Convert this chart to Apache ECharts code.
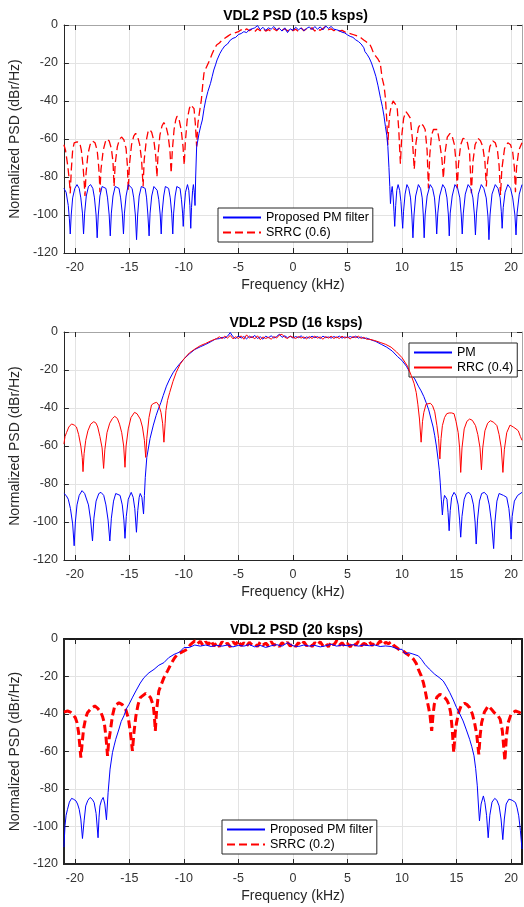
<!DOCTYPE html>
<html lang="en">
<head>
    <meta charset="UTF-8">
    <title>VDL2 PSD</title>
    <script src="https://cdn.jsdelivr.net/npm/echarts@6/dist/echarts.min.js"></script>
</head>
<style>
    html, body { margin: 0; padding: 0; background: #fff; }
    #chart { width: 524px; height: 907px; }
</style>
<body>
<div id="chart"></div>
<script>
    // tick positions and titles
    var xTicks = [-20, -15, -10, -5, 0, 5, 10, 15, 20];
    var titles = ['VDL2 PSD (10.5 ksps)', 'VDL2 PSD (16 ksps)', 'VDL2 PSD (20 ksps)'];
    var names = [['Proposed PM filter', 'SRRC (0.6)'], ['PM', 'RRC (0.4)'], ['Proposed PM filter', 'SRRC (0.2)']];

    // panel 1 (10.5 ksps) [kHz, dB]
    var p1Blue = [[-21.0,-86],[-20.8,-88],[-20.6,-95],[-20.5,-102],[-20.42,-110],[-20.33,-100],[-20.2,-91],[-20.0,-86],[-19.8,-84],[-19.6,-86],[-19.45,-91],[-19.3,-99],[-19.2,-110],[-19.1,-99],[-18.95,-90],[-18.75,-85],[-18.55,-84],[-18.35,-86],[-18.2,-91],[-18.05,-100],[-17.95,-112],[-17.85,-100],[-17.7,-90],[-17.5,-85],[-17.35,-84],[-17.15,-86],[-17.0,-91],[-16.85,-100],[-16.75,-111],[-16.65,-99],[-16.5,-90],[-16.3,-85],[-16.15,-84],[-15.95,-86],[-15.8,-91],[-15.65,-99],[-15.54,-110],[-15.45,-99],[-15.3,-90],[-15.1,-84],[-14.94,-83],[-14.75,-86],[-14.6,-91],[-14.45,-100],[-14.34,-113],[-14.24,-100],[-14.1,-90],[-13.9,-85],[-13.73,-84],[-13.55,-86],[-13.42,-91],[-13.3,-100],[-13.19,-111],[-13.1,-99],[-12.95,-90],[-12.75,-85],[-12.6,-85],[-12.45,-87],[-12.3,-92],[-12.17,-100],[-12.08,-110],[-12.0,-99],[-11.85,-90],[-11.7,-85],[-11.57,-84],[-11.4,-86],[-11.25,-91],[-11.12,-99],[-11.02,-110],[-10.94,-99],[-10.8,-90],[-10.65,-85],[-10.51,-84],[-10.35,-86],[-10.22,-92],[-10.12,-99],[-10.06,-106],[-9.98,-97],[-9.85,-88],[-9.67,-84],[-9.55,-87],[-9.45,-95],[-9.37,-107],[-9.3,-96],[-9.2,-87],[-9.13,-84],[-9.05,-88],[-8.98,-95],[-8.92,-80],[-8.83,-64],[-8.7,-60],[-8.61,-57],[-8.45,-53],[-8.31,-50],[-8.15,-44],[-8.0,-39.5],[-7.8,-35],[-7.56,-30.7],[-7.4,-27],[-7.26,-23.7],[-7.1,-21],[-6.96,-18.4],[-6.7,-15],[-6.5,-13],[-6.25,-11],[-6.0,-10],[-5.75,-8],[-5.5,-7],[-5.25,-6.5],[-5.0,-5],[-4.75,-4.5],[-4.5,-3.5],[-4.25,-4],[-4.0,-2.5],[-3.75,-2],[-3.5,-1.5],[-3.25,-0.3],[-3.0,-2.5],[-2.75,-1.2],[-2.5,-2.8],[-2.25,-1.5],[-2.0,-2.2],[-1.75,-0.8],[-1.5,-2.5],[-1.25,-1.8],[-1.0,-3.2],[-0.75,-1.5],[-0.5,-4],[-0.25,-2],[0,-2.8],[0.25,-1.2],[0.5,-2.5],[0.75,-1.6],[1.0,-3],[1.25,-1.8],[1.5,-1.0],[1.75,-2.5],[2.0,-0.8],[2.25,-2.2],[2.5,-1.0],[2.75,-2.6],[3.0,-0.5],[3.25,-1.8],[3.5,-0.8],[3.75,-2.2],[4.0,-2.5],[4.25,-3.0],[4.5,-3.8],[4.75,-4.2],[5.0,-5.2],[5.25,-6],[5.5,-6.5],[5.75,-7.8],[6.0,-8.7],[6.25,-10],[6.5,-12],[6.6,-14],[6.8,-15.5],[7.0,-17.4],[7.2,-20],[7.42,-23.7],[7.6,-27],[7.8,-32],[8.03,-38.6],[8.2,-43],[8.35,-48],[8.48,-53.5],[8.6,-58],[8.7,-64],[8.8,-75],[8.88,-85],[8.94,-94],[9.02,-88],[9.1,-85],[9.18,-90],[9.26,-98],[9.33,-106],[9.42,-95],[9.52,-87],[9.64,-84],[9.78,-87],[9.9,-93],[9.98,-100],[10.06,-107],[10.14,-98],[10.28,-89],[10.45,-84],[10.62,-86],[10.78,-91],[10.9,-100],[11.0,-112],[11.1,-100],[11.25,-90],[11.5,-84],[11.7,-86],[11.85,-91],[11.95,-100],[12.03,-112],[12.12,-100],[12.3,-90],[12.58,-84],[12.8,-86],[12.98,-91],[13.1,-100],[13.18,-110],[13.28,-99],[13.45,-90],[13.73,-84],[13.95,-86],[14.12,-91],[14.25,-100],[14.33,-111],[14.42,-99],[14.6,-90],[14.85,-84],[15.1,-86],[15.3,-91],[15.43,-100],[15.52,-110],[15.62,-99],[15.8,-89],[16.06,-84],[16.3,-86],[16.5,-91],[16.64,-100],[16.73,-110.5],[16.83,-99],[17.0,-89],[17.27,-84],[17.5,-86],[17.72,-91],[17.88,-101],[17.97,-113],[18.07,-100],[18.25,-89],[18.55,-84],[18.8,-86],[19.0,-91],[19.1,-98],[19.18,-107],[19.28,-96],[19.45,-88],[19.7,-84],[19.95,-86],[20.15,-91],[20.35,-100],[20.45,-110.5],[20.55,-99],[20.75,-89],[21.0,-84]];
    var p1Red = [[-21.0,-63],[-20.85,-66],[-20.65,-74],[-20.5,-82],[-20.42,-88.6],[-20.32,-76],[-20.2,-66],[-20.06,-62],[-19.8,-61.5],[-19.55,-62],[-19.4,-66],[-19.25,-74],[-19.15,-82],[-19.07,-90],[-18.97,-78],[-18.8,-68],[-18.6,-63],[-18.4,-61],[-18.15,-62],[-17.95,-66],[-17.82,-74],[-17.75,-80],[-17.7,-88],[-17.6,-76],[-17.4,-66],[-17.2,-61.5],[-17.05,-60],[-16.85,-61],[-16.65,-65],[-16.5,-72],[-16.4,-85],[-16.3,-73],[-16.1,-64],[-15.9,-60],[-15.7,-59],[-15.5,-60.5],[-15.3,-65],[-15.18,-74],[-15.1,-87],[-15.0,-74],[-14.8,-63],[-14.6,-58.5],[-14.43,-57],[-14.25,-58.5],[-14.05,-63],[-13.88,-71],[-13.74,-85],[-13.64,-71],[-13.45,-61],[-13.3,-56.5],[-13.13,-55],[-12.95,-56.5],[-12.75,-61],[-12.58,-69],[-12.47,-80],[-12.37,-68],[-12.2,-58],[-12.0,-53],[-11.84,-51.4],[-11.65,-53],[-11.45,-58],[-11.28,-66],[-11.17,-78],[-11.06,-66],[-10.9,-55],[-10.75,-50],[-10.63,-48],[-10.45,-49.5],[-10.25,-55],[-10.08,-64],[-9.97,-73.7],[-9.87,-62],[-9.7,-50],[-9.5,-44],[-9.37,-42],[-9.2,-42.5],[-9.07,-44],[-8.95,-52],[-8.83,-64],[-8.72,-52],[-8.6,-47],[-8.4,-39.5],[-8.25,-30],[-8.16,-25.4],[-8.0,-23],[-7.86,-22],[-7.6,-18],[-7.4,-15],[-7.2,-12.5],[-7.0,-10.5],[-6.75,-9.5],[-6.5,-8],[-6.25,-7],[-6.0,-6],[-5.75,-5],[-5.5,-4.5],[-5.25,-4],[-5.0,-3.5],[-4.75,-2.5],[-4.5,-3.2],[-4.25,-2],[-4.0,-3],[-3.75,-2.2],[-3.5,-3.5],[-3.25,-2],[-3.0,-3],[-2.75,-1.8],[-2.5,-3.2],[-2.25,-2.4],[-2.0,-3.4],[-1.75,-2],[-1.5,-3],[-1.25,-1.5],[-1.0,-2.8],[-0.75,-2],[-0.5,-3.2],[-0.25,-1.8],[0,-3],[0.25,-2.2],[0.5,-3.4],[0.75,-1.6],[1.0,-3],[1.25,-2],[1.5,-2.6],[1.75,-1.4],[2.0,-3.2],[2.25,-2],[2.5,-2.8],[2.75,-1.8],[3.0,-0.8],[3.25,-2.5],[3.5,-2],[3.75,-3],[4.0,-2.2],[4.25,-3.2],[4.5,-2.8],[4.75,-3.6],[5.0,-4.3],[5.25,-4.5],[5.5,-5],[5.75,-5.5],[6.0,-6],[6.25,-6.8],[6.52,-8],[6.75,-9],[7.0,-9.6],[7.2,-12],[7.4,-15],[7.6,-16.5],[7.8,-18],[8.0,-20],[8.18,-28],[8.35,-32],[8.48,-38.6],[8.6,-50],[8.7,-63],[8.8,-52],[8.88,-46.5],[9.0,-43],[9.18,-40],[9.35,-41],[9.55,-43],[9.7,-55],[9.85,-73],[9.98,-58],[10.15,-49],[10.36,-45.6],[10.55,-47],[10.76,-49],[10.95,-60],[11.12,-76],[11.28,-62],[11.5,-54],[11.73,-51.8],[11.95,-53],[12.12,-55],[12.3,-66],[12.42,-86],[12.55,-68],[12.7,-58],[12.88,-55],[13.05,-54.5],[13.24,-55],[13.45,-62],[13.65,-70],[13.79,-80.7],[13.95,-67],[14.15,-59],[14.4,-57],[14.6,-58.5],[14.8,-63],[14.95,-72],[15.06,-86],[15.18,-73],[15.38,-63],[15.6,-59.6],[15.8,-60],[16.0,-62],[16.2,-68],[16.36,-88.6],[16.5,-72],[16.7,-63],[16.97,-59.6],[17.2,-61],[17.4,-64],[17.6,-72],[17.73,-85],[17.85,-72],[18.05,-64],[18.33,-61],[18.55,-62],[18.75,-66],[18.9,-74],[19.03,-89.5],[19.15,-76],[19.4,-65],[19.7,-62],[19.95,-63],[20.15,-67],[20.3,-75],[20.4,-88],[20.5,-75],[20.7,-66],[21.0,-62]];

    // panel 2 (16 ksps)
    var p2Blue = [[-21.0,-85],[-20.8,-86],[-20.6,-88],[-20.4,-93],[-20.2,-101],[-20.06,-112.5],[-19.95,-100],[-19.8,-91],[-19.6,-86],[-19.34,-83.5],[-19.1,-85],[-18.95,-86],[-18.75,-91],[-18.55,-99],[-18.38,-110],[-18.25,-98],[-18.05,-89],[-17.8,-85],[-17.6,-84.4],[-17.35,-86],[-17.15,-91],[-16.95,-99],[-16.79,-110],[-16.65,-98],[-16.45,-89],[-16.25,-85],[-16.1,-84.4],[-15.85,-86],[-15.65,-91],[-15.5,-99],[-15.4,-108.6],[-15.28,-97],[-15.1,-88],[-14.83,-84.4],[-14.65,-87],[-14.5,-93],[-14.35,-105.4],[-14.23,-94],[-14.1,-87],[-14.0,-85],[-13.85,-87],[-13.7,-95.8],[-13.62,-86],[-13.54,-76.5],[-13.4,-66],[-13.1,-56],[-12.8,-49],[-12.55,-44],[-12.34,-40.5],[-12.1,-37],[-11.9,-33.5],[-11.6,-28.5],[-11.3,-24.7],[-11.0,-21.5],[-10.7,-19],[-10.35,-16.5],[-10.0,-14.2],[-9.5,-11.5],[-9.0,-9.2],[-8.5,-7.8],[-8.0,-6.5],[-7.5,-5],[-7.1,-3.7],[-6.75,-3.5],[-6.5,-2.8],[-6.25,-3.2],[-6.0,-2.2],[-5.75,-0.3],[-5.5,-2.5],[-5.25,-3.5],[-5.0,-2],[-4.75,-3.2],[-4.5,-2.4],[-4.25,-3.6],[-4.0,-2.2],[-3.75,-3],[-3.5,-1.8],[-3.25,-3.4],[-3.0,-2.5],[-2.75,-3.8],[-2.5,-2.2],[-2.25,-3],[-2.0,-2],[-1.75,-3.2],[-1.5,-2.4],[-1.25,-1.2],[-1.0,-2.8],[-0.75,-2],[-0.5,-3],[-0.25,-2.2],[0,-3.2],[0.25,-2.4],[0.5,-3],[0.75,-2],[1.0,-3.4],[1.25,-2.6],[1.5,-3.2],[1.75,-2.2],[2.0,-3],[2.25,-2.4],[2.5,-3.4],[2.75,-2.2],[3.0,-3],[3.25,-2.6],[3.5,-3.2],[3.75,-2.4],[4.0,-3],[4.25,-2.2],[4.5,-3.2],[4.75,-2.6],[5.0,-3],[5.25,-2.4],[5.5,-3],[5.75,-2.2],[6.0,-3.2],[6.25,-2.6],[6.5,-3.4],[6.75,-3.2],[7.1,-4],[7.6,-5],[8.1,-6.5],[8.6,-8],[9.1,-10],[9.6,-13],[10.0,-15],[10.4,-18],[10.8,-22],[11.17,-24.7],[11.5,-28.5],[11.75,-31],[12.0,-34],[12.2,-37],[12.45,-41],[12.66,-45.8],[12.85,-50],[13.0,-54.6],[13.15,-60],[13.3,-66.8],[13.42,-73],[13.5,-79],[13.6,-88],[13.7,-96.3],[13.8,-89],[13.9,-86],[14.0,-85],[14.12,-88],[14.22,-95],[14.32,-104.6],[14.42,-94],[14.55,-87],[14.77,-84.4],[14.95,-86],[15.15,-91],[15.28,-99],[15.38,-108],[15.5,-97],[15.7,-88],[15.9,-85],[16.13,-84.4],[16.35,-86],[16.55,-91],[16.7,-100],[16.8,-111.6],[16.92,-99],[17.1,-89],[17.3,-85],[17.55,-84.4],[17.8,-86],[18.0,-91],[18.2,-100],[18.4,-114],[18.52,-100],[18.7,-89],[18.9,-85],[19.06,-84.4],[19.3,-86],[19.6,-87],[19.8,-93],[19.92,-100],[20.0,-109],[20.1,-97],[20.3,-89],[20.6,-86],[21.0,-84.4]];
    var p2Red = [[-21.0,-59],[-20.9,-55],[-20.75,-52.8],[-20.55,-50],[-20.3,-48.4],[-20.05,-49],[-19.85,-50],[-19.65,-54],[-19.45,-60],[-19.32,-66],[-19.25,-73.5],[-19.15,-64],[-19.0,-57],[-18.8,-52],[-18.55,-48.5],[-18.26,-47.2],[-18.05,-48],[-17.9,-50],[-17.7,-55],[-17.5,-61],[-17.36,-71.8],[-17.25,-62],[-17.05,-53],[-16.8,-48],[-16.55,-45.5],[-16.34,-44.4],[-16.1,-45.5],[-15.9,-48.5],[-15.7,-53],[-15.52,-60],[-15.4,-71.2],[-15.3,-60],[-15.1,-51],[-14.85,-45],[-14.53,-42.3],[-14.3,-43],[-14.0,-45.8],[-13.8,-50],[-13.62,-57],[-13.5,-66],[-13.4,-56],[-13.2,-45],[-12.97,-38.4],[-12.75,-37.5],[-12.5,-37],[-12.3,-38.5],[-12.1,-42.3],[-11.95,-48],[-11.83,-58],[-11.72,-48],[-11.65,-41.4],[-11.5,-36],[-11.3,-31.8],[-11.0,-26],[-10.7,-21.2],[-10.35,-17],[-10.0,-14.2],[-9.5,-11],[-9.0,-9],[-8.5,-7.2],[-8.0,-6],[-7.5,-4.6],[-7.0,-3.5],[-6.75,-2.5],[-6.5,-3.5],[-6.25,-2.2],[-6.0,-3.2],[-5.75,-1.8],[-5.5,-3.6],[-5.25,-2.5],[-5.0,-3.4],[-4.75,-2],[-4.5,-3.8],[-4.25,-1.5],[-4.0,-3.2],[-3.75,-2.4],[-3.5,-3.6],[-3.25,-2],[-3.0,-4],[-2.75,-2.6],[-2.5,-3.4],[-2.25,-2.8],[-2.0,-3.8],[-1.75,-2.4],[-1.5,-3.2],[-1.25,-1.6],[-1.0,-1.2],[-0.75,-2.8],[-0.5,-3.4],[-0.25,-2.2],[0,-2.8],[0.25,-3.4],[0.5,-2.4],[0.75,-3.2],[1.0,-2.6],[1.25,-3.6],[1.5,-2.4],[1.75,-3.4],[2.0,-2.2],[2.25,-3.2],[2.5,-2.6],[2.75,-3.8],[3.0,-2.4],[3.25,-3.2],[3.5,-2.2],[3.75,-3.4],[4.0,-2.6],[4.25,-3.4],[4.5,-2.2],[4.75,-3.2],[5.0,-2.6],[5.25,-3.6],[5.5,-2.4],[5.75,-3],[6.0,-2.2],[6.25,-3.4],[6.5,-2.8],[6.75,-3.8],[7.0,-3.8],[7.5,-4.5],[8.0,-5.5],[8.5,-6.5],[9.0,-8],[9.5,-10.5],[10.0,-13.5],[10.5,-18],[10.85,-23],[11.1,-27],[11.3,-31.8],[11.45,-38],[11.6,-45.8],[11.75,-58],[11.88,-47],[12.0,-42.3],[12.2,-38],[12.36,-37],[12.6,-37.5],[12.8,-38.8],[13.0,-42],[13.2,-49.3],[13.35,-56],[13.47,-66.8],[13.58,-56],[13.7,-49.3],[13.9,-45],[14.1,-43],[14.32,-42.6],[14.55,-42.6],[14.77,-43],[14.95,-47],[15.15,-53],[15.28,-61],[15.38,-73.9],[15.5,-61],[15.7,-51],[15.95,-47],[16.2,-45.8],[16.45,-46.5],[16.74,-49.3],[16.95,-54],[17.15,-61],[17.28,-72.5],[17.4,-61],[17.6,-52],[17.85,-48],[18.1,-46.7],[18.4,-47.5],[18.7,-49.3],[18.9,-54],[19.1,-61],[19.25,-73.9],[19.38,-62],[19.6,-53],[19.9,-49],[20.2,-50],[20.45,-51],[20.66,-52],[20.85,-55],[21.0,-57]];

    // panel 3 (20 ksps)
    var p3Blue = [[-21.0,-111],[-20.9,-99.6],[-20.8,-94],[-20.67,-90.8],[-20.5,-87],[-20.3,-85],[-20.1,-85.5],[-19.9,-86.3],[-19.75,-88],[-19.6,-90.8],[-19.45,-96],[-19.3,-106.4],[-19.15,-97],[-19.0,-89],[-18.8,-86],[-18.6,-84.5],[-18.4,-85.5],[-18.23,-87.2],[-18.05,-93],[-17.87,-106],[-17.78,-95],[-17.7,-89],[-17.55,-86],[-17.4,-84.5],[-17.25,-88],[-17.1,-96.4],[-16.95,-82],[-16.77,-69.4],[-16.55,-60.6],[-16.4,-57],[-16.25,-53.5],[-15.95,-48],[-15.75,-44],[-15.5,-41],[-15.25,-37],[-15.03,-34.8],[-14.7,-31],[-14.4,-27.7],[-14.0,-23.5],[-13.66,-20.6],[-13.2,-18],[-12.74,-16.2],[-12.3,-14],[-11.83,-12.6],[-11.4,-10],[-10.9,-8.2],[-10.4,-7],[-10.0,-4.6],[-9.5,-4.5],[-9.0,-3.2],[-8.5,-3.8],[-8.0,-3.2],[-7.5,-4],[-7.0,-3.4],[-6.5,-3.8],[-6.0,-3.2],[-5.5,-4.2],[-5.0,-3.4],[-4.5,-3.8],[-4.0,-3],[-3.5,-4.2],[-3.0,-3.4],[-2.5,-4.5],[-2.0,-3.6],[-1.5,-3],[-1.0,-3.8],[-0.5,-2],[0,-3.6],[0.5,-4],[1.0,-3.2],[1.5,-3.8],[2.0,-3.4],[2.5,-4.2],[3.0,-3.6],[3.5,-2.8],[4.0,-3.8],[4.5,-3.2],[5.0,-3.6],[5.5,-3],[6.0,-3.8],[6.5,-3.2],[7.0,-3.6],[7.5,-3.2],[8.0,-4],[8.5,-3.7],[9.0,-4],[9.7,-5.5],[10.0,-5.5],[10.3,-8],[10.6,-7.3],[11.0,-8],[11.5,-9],[11.8,-11],[12.1,-13.5],[12.5,-16],[13.0,-18.8],[13.4,-20.5],[13.78,-22.4],[14.1,-25.5],[14.38,-28.6],[14.7,-32.5],[15.0,-36.6],[15.3,-40],[15.6,-43.7],[15.9,-48.5],[16.2,-53.5],[16.4,-57.5],[16.6,-62.3],[16.75,-69],[16.9,-78.3],[17.0,-88],[17.1,-97],[17.25,-88],[17.46,-83.7],[17.6,-87.2],[17.75,-94],[17.9,-106],[18.05,-94],[18.25,-87],[18.5,-85],[18.7,-86],[18.9,-89],[19.08,-96],[19.24,-107],[19.38,-96],[19.55,-88],[19.8,-85.4],[20.1,-86],[20.4,-87.2],[20.55,-90],[20.7,-94.3],[20.85,-102],[21.0,-112]];
    var p3Red = [[-21.0,-39],[-20.67,-38.4],[-20.4,-39],[-20.2,-40],[-19.95,-42],[-19.8,-44.6],[-19.65,-50],[-19.45,-63.2],[-19.3,-54],[-19.2,-48],[-19.0,-42],[-18.84,-39.3],[-18.5,-37],[-18.17,-35.7],[-17.9,-37],[-17.6,-39.3],[-17.45,-41.5],[-17.3,-44.6],[-17.15,-52],[-17.0,-62.3],[-16.9,-55],[-16.77,-50],[-16.55,-41],[-16.34,-35.7],[-15.95,-34],[-15.65,-35],[-15.34,-37.5],[-15.1,-42],[-14.9,-50],[-14.72,-59.7],[-14.58,-50],[-14.4,-41],[-14.2,-35],[-14.0,-31.3],[-13.5,-29],[-13.25,-30],[-13.05,-31.3],[-12.8,-35.7],[-12.7,-42],[-12.62,-49],[-12.5,-38],[-12.3,-27.7],[-11.83,-20.6],[-11.5,-17],[-11.2,-13.5],[-10.9,-10.5],[-10.6,-8.2],[-10.2,-7],[-9.7,-5.5],[-9.4,-3],[-9.0,-1],[-8.75,-2.5],[-8.5,-1.2],[-8.25,-3.5],[-8.0,-1.5],[-7.75,-3],[-7.5,-0.8],[-7.25,-3.8],[-7.0,-2],[-6.75,-4],[-6.5,-1.5],[-6.25,-3.2],[-6.0,-2.2],[-5.75,-4.2],[-5.5,-1.5],[-5.25,-3],[-5.0,-0.8],[-4.75,-3.6],[-4.5,-2],[-4.25,-3.8],[-4.0,-1.8],[-3.75,-3.2],[-3.5,-2.6],[-3.25,-4],[-3.0,-1.6],[-2.75,-3.2],[-2.5,-2.2],[-2.25,-3.8],[-2.0,-1.4],[-1.75,-3.4],[-1.5,-2.4],[-1.25,-4],[-1.0,-2],[-0.75,-3.2],[-0.5,-1.8],[-0.25,-3.8],[0,-2.4],[0.25,-4],[0.5,-2],[0.75,-3.4],[1.0,-1.6],[1.25,-3.6],[1.5,-2.4],[1.75,-4],[2.0,-2],[2.25,-3.2],[2.5,-1.5],[2.75,-3.6],[3.0,-2.2],[3.25,-4.2],[3.5,-1.4],[3.75,-3.2],[4.0,-1.0],[4.25,-3.4],[4.5,-2],[4.75,-4],[5.0,-2.4],[5.25,-4.2],[5.5,-1.8],[5.75,-3.4],[6.0,-1.2],[6.25,-3.6],[6.5,-2.4],[6.75,-3],[7.0,-1.2],[7.25,-3.6],[7.5,-1.5],[7.75,-2.8],[8.0,-1],[8.25,-3.2],[8.5,-1.8],[8.75,-2.5],[9.0,-1.5],[9.25,-3.5],[9.7,-5.5],[10.0,-6],[10.3,-7.3],[10.7,-9],[11.06,-10.8],[11.3,-13],[11.5,-16.2],[11.75,-19.5],[11.96,-23.3],[12.1,-27],[12.27,-32],[12.45,-37],[12.57,-41],[12.72,-49],[12.85,-40],[12.96,-34.8],[13.2,-31],[13.47,-29.5],[13.7,-30],[13.93,-31.3],[14.1,-32.5],[14.29,-34.8],[14.45,-39],[14.6,-48],[14.74,-60.6],[14.87,-50],[15.0,-44.6],[15.2,-39],[15.44,-35.3],[15.74,-34.3],[15.95,-35],[16.2,-36.6],[16.45,-40],[16.65,-44.6],[16.85,-51],[17.04,-61.5],[17.17,-51],[17.3,-44.6],[17.55,-39],[17.9,-35.7],[18.2,-37.5],[18.46,-39.3],[18.75,-40.5],[19.0,-42.8],[19.2,-49],[19.43,-65],[19.57,-52],[19.73,-44.6],[20.0,-40],[20.4,-38.4],[20.7,-39],[21.0,-40]];

    var blueData = [p1Blue, p2Blue, p3Blue];
    var redData = [p1Red, p2Red, p3Red];

    // layout of the three panels
    var grids = [
        {left: 59, top: 25, width: 463, height: 228},
        {left: 60, top: 332, width: 462, height: 228},
        {left: 61, top: 639, width: 461, height: 225}
    ];
    var legendPos = [{left: 218, top: 208}, {left: 409, top: 343}, {left: 222, top: 820}];
    var redLine = [
        {width: 1.3, type: [8, 4]},
        {width: 1, type: 'solid'},
        {width: 3, type: [8, 4]}
    ];
    var boxColor = ['#a6a6a6', '#a6a6a6', '#1a1a1a'];
    var boxWidth = [1, 1, 2];
    var axisWidth = [1, 1, 2];

    var chart = echarts.init(document.getElementById('chart'));
    var option = {
        animation: false,
        backgroundColor: '#fff',
        title: [], grid: [], xAxis: [], yAxis: [], legend: [], series: []
    };

    for (var i = 0; i < 3; i++) {
        var g = grids[i];
        option.title.push({
            text: titles[i],
            left: g.left + g.width / 2,
            top: g.top - 21,
            textAlign: 'center',
            textStyle: {fontFamily: 'Liberation Sans, Arial', fontSize: 14, fontWeight: 'bold', color: '#000'}
        });
        option.grid.push({left: g.left, top: g.top, width: g.width, height: g.height, show: false});

        // bottom x axis
        option.xAxis.push({
            type: 'value', gridIndex: i, min: -21, max: 21, position: 'bottom',
            name: 'Frequency (kHz)', nameLocation: 'middle', nameGap: 25,
            nameTextStyle: {fontFamily: 'Liberation Sans, Arial', fontSize: 14, color: '#262626'},
            axisLine: {onZero: false, lineStyle: {color: '#262626', width: axisWidth[i]}},
            axisTick: {inside: true, length: 5, customValues: xTicks, lineStyle: {color: '#262626'}},
            axisLabel: {customValues: xTicks, margin: 8, fontFamily: 'Liberation Sans, Arial', fontSize: 12.5, color: '#333'},
            splitLine: {show: true, lineStyle: {color: '#e3e3e3', width: 1}}
        });
        // top box edge
        option.xAxis.push({
            type: 'value', gridIndex: i, min: -21, max: 21, position: 'top',
            axisLine: {onZero: false, lineStyle: {color: boxColor[i], width: boxWidth[i]}},
            axisTick: {inside: true, length: 5, customValues: xTicks, lineStyle: {color: '#262626'}},
            axisLabel: {show: false},
            splitLine: {show: false}
        });
        // left y axis
        option.yAxis.push({
            type: 'value', gridIndex: i, min: -120, max: 0, interval: 20, position: 'left',
            name: 'Normalized PSD (dBr/Hz)', nameLocation: 'middle', nameGap: 37, nameRotate: 90,
            nameTextStyle: {fontFamily: 'Liberation Sans, Arial', fontSize: 14, color: '#262626'},
            axisLine: {show: true, onZero: false, lineStyle: {color: '#262626', width: axisWidth[i]}},
            axisTick: {show: true, inside: true, length: 5, lineStyle: {color: '#262626'}},
            axisLabel: {margin: 6, fontFamily: 'Liberation Sans, Arial', fontSize: 12.5, color: '#333'},
            splitLine: {show: true, lineStyle: {color: '#e3e3e3', width: 1}}
        });
        // right box edge
        option.yAxis.push({
            type: 'value', gridIndex: i, min: -120, max: 0, interval: 20, position: 'right',
            axisLine: {show: true, onZero: false, lineStyle: {color: boxColor[i], width: boxWidth[i]}},
            axisTick: {show: true, inside: true, length: 5, lineStyle: {color: '#262626'}},
            axisLabel: {show: false},
            splitLine: {show: false}
        });

        option.series.push({
            name: names[i][0], type: 'line', xAxisIndex: 2 * i, yAxisIndex: 2 * i,
            data: blueData[i], symbol: 'none', showSymbol: false, z: 3,
            itemStyle: {color: '#0000ff'},
            lineStyle: {color: '#0000ff', width: 1}
        });
        option.series.push({
            name: names[i][1], type: 'line', xAxisIndex: 2 * i, yAxisIndex: 2 * i,
            data: redData[i], symbol: 'none', showSymbol: false, z: i === 1 ? 4 : 2,
            itemStyle: {color: '#ff0000'},
            lineStyle: {color: '#ff0000', width: redLine[i].width, type: redLine[i].type}
        });

        option.legend.push({
            data: names[i], orient: 'vertical',
            left: legendPos[i].left, top: legendPos[i].top,
            backgroundColor: '#fff', borderColor: '#262626', borderWidth: 1,
            padding: [3, 4, 3, 4], itemGap: 2, itemWidth: 38, itemHeight: 12,
            itemStyle: {opacity: 0},
            textStyle: {fontFamily: 'Liberation Sans, Arial', fontSize: 12.5, color: '#000'},
            selectedMode: false
        });
    }

    chart.setOption(option);
</script>
</body>
</html>
